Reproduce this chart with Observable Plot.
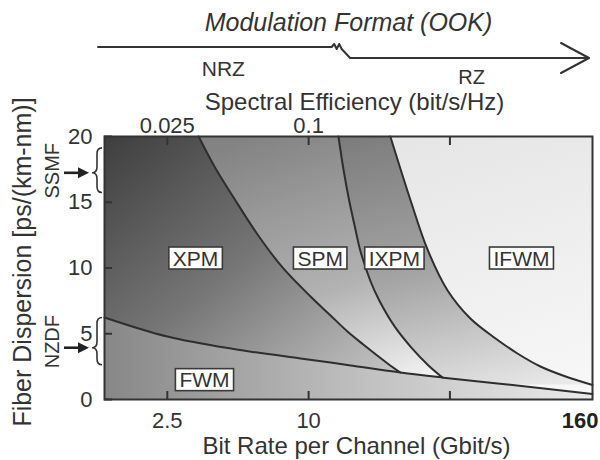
<!DOCTYPE html>
<html><head><meta charset="utf-8">
<script src="https://cdn.jsdelivr.net/npm/d3@7"></script>
<script src="https://cdn.jsdelivr.net/npm/@observablehq/plot@0.6"></script>
<style>body{margin:0;background:#fff}</style>
</head><body><div id="chart"></div>
<script>
// ---- axes ----
const bitRateDomain = [1.35, 162];
const dispersionDomain = [0, 20];
const bitRateTicks = [2.5, 10, 40];
const bitRateEdgeLabel = 160;
const spectralEffTicks = [0.025, 0.1, 0.4];
const dispersionTicks = [0, 5, 10, 15, 20];

// ---- texts ----
const headerTitle = "Modulation Format (OOK)";
const topTitle = "Spectral Efficiency (bit/s/Hz)";
const bottomTitle = "Bit Rate per Channel (Gbit/s)";
const leftTitle = "Fiber Dispersion [ps/(km-nm)]";

// ---- modulation formats (bit-rate spans) ----
const modNames = ["NRZ", "RZ"];
const modStart = [1.35, 15.1];
const modEnd = [12.6, 162];

// ---- boundary curves [bit rate (Gbit/s), dispersion] ----
const fwmBound = [[1.35,6.24],[2.5,4.79],[4.79,3.84],[9.23,3.12],[12.4,2.81],[15.1,2.59],[24.6,2.05],[37.2,1.67],[63.8,1.22],[162,0.42]];
const xpmSpmBound = [[3.4,20],[3.97,17.72],[4.79,15.36],[6.06,12.55],[7.74,10.04],[10.19,7.83],[12.4,6.39],[14.64,5.17],[17.1,4.18],[21.7,2.74],[24.6,2.05]];
const spmIxpmBound = [[13.4,20],[14.08,17.49],[14.8,15.36],[15.8,13.0],[16.6,11.33],[18.3,9.05],[20.0,7.53],[23.4,5.48],[27.4,3.95],[32.4,2.59],[37.2,1.67]];
const ixpmIfwmBound = [[22.3,20],[27.2,15.13],[32.1,11.41],[39.1,8.29],[48.9,6.16],[62.6,4.64],[77.6,3.5],[97.2,2.51],[128,1.67],[162,1.1]];

// ---- region labels ----
const regionNames = ["XPM", "SPM", "IXPM", "IFWM", "FWM"];
const regionBitRate = [3.3, 11.2, 23.2, 80.7, 3.6];
const regionDispersion = [10.7, 10.7, 10.7, 10.7, 1.45];

// ---- fibre types ----
const fiberNames = ["SSMF", "NZDF"];
const fiberLow = [15.7, 2.6];
const fiberHigh = [19.1, 6.2];
const fiberTypical = [17.2, 3.9];

const NS = "http://www.w3.org/2000/svg";
const el = (tag, attrs = {}) => { const e = document.createElementNS(NS, tag); for (const k in attrs) e.setAttribute(k, attrs[k]); return e; };

function defsMark() {
  const defs = el("defs");
  const grads = [
    ["g-ifwm", [0.45, 0, 1, 1], [[0, "#e4e4e4"], [1, "#f8f8f8"]]],
    ["g-ixpm", [0.5, 0, 1, 1], [[0, "#7c7c7c"], [0.5, "#a4a4a4"], [1, "#ededed"]]],
    ["g-spm", [0.45, 0, 0.95, 1], [[0, "#838383"], [0.6, "#b2b2b2"], [1, "#f2f2f2"]]],
    ["g-xpm", [0, 0, 1, 1], [[0, "#3e3e3e"], [0.5, "#767676"], [1, "#c6c6c6"]]],
    ["g-fwm", [0, 0, 1, 0], [[0, "#878787"], [0.5, "#bdbdbd"], [1, "#ebebeb"]]]
  ];
  for (const [id, [x1, y1, x2, y2], stops] of grads) {
    const g = el("linearGradient", {id, x1, y1, x2, y2});
    for (const [o, c] of stops) g.append(el("stop", {offset: o, "stop-color": c}));
    defs.append(g);
  }
  return defs;
}

function headerMark(index, scales) {
  const g = el("g", {fill: "none", stroke: "#333", "stroke-width": 2, "stroke-linejoin": "round", "stroke-linecap": "round"});
  const xs = scales.x;
  const x0 = xs(bitRateDomain[0]) - 6, xa = xs(modEnd[0]), xb = xs(modStart[1]), x1 = xs(bitRateDomain[1]) - 3;
  const yN = 47, yR = 58;
  g.append(el("path", {d: `M${x0},${yN}H${xa}l2.5,-3l2.5,5l2.5,-5l2.5,5L${xb},${yR}H${x1}`}));
  g.append(el("path", {d: `M${x1 - 28},${yR - 15}L${x1},${yR}L${x1 - 28},${yR + 15}`}));
  return g;
}

function fiberMark(index, scales, values, dim) {
  const g = el("g");
  fiberNames.forEach((name, i) => {
    const y1 = scales.y(fiberHigh[i]), y2 = scales.y(fiberLow[i]), ym = scales.y(fiberTypical[i]);
    const xr = dim.marginLeft - 2, w = 10, xl = xr - w, xm = xr - w / 2, r = 6;
    g.append(el("path", {fill: "none", stroke: "#333", "stroke-width": 1.6,
      d: `M${xr},${y1}Q${xm},${y1} ${xm},${y1 + r}L${xm},${ym - r}Q${xm},${ym} ${xl},${ym}Q${xm},${ym} ${xm},${ym + r}L${xm},${y2 - r}Q${xm},${y2} ${xr},${y2}`}));
    const ax = xl - 3;
    g.append(el("path", {fill: "none", stroke: "#222", "stroke-width": 2.6, d: `M${ax - 25},${ym}H${ax - 8}`}));
    g.append(el("path", {fill: "#222", d: `M${ax},${ym}L${ax - 11},${ym - 5.5}L${ax - 11},${ym + 5.5}Z`}));
  });
  return g;
}

const curveOpts = {curve: "catmull-rom", stroke: "#2e2e2e", strokeWidth: 2};
const px = d => d[0], py = d => d[1];
const tick = {tickSize: -8, strokeWidth: 2, stroke: "#333", label: null, fontSize: 22};

const svg = Plot.plot({
  width: 600, height: 460,
  marginLeft: 104, marginRight: 8, marginTop: 136, marginBottom: 61,
  style: {fontFamily: "'Liberation Sans', Arial, sans-serif", fontSize: "22px", color: "#333", background: "#fff", overflow: "visible"},
  x: {type: "log", domain: bitRateDomain},
  y: {domain: dispersionDomain},
  marks: [
    defsMark,
    Plot.frame({fill: "url(#g-ifwm)"}),
    Plot.areaX(ixpmIfwmBound, {y: py, x1: bitRateDomain[0], x2: px, curve: "catmull-rom", fill: "url(#g-ixpm)"}),
    Plot.areaX(spmIxpmBound, {y: py, x1: bitRateDomain[0], x2: px, curve: "catmull-rom", fill: "url(#g-spm)"}),
    Plot.areaX(xpmSpmBound, {y: py, x1: bitRateDomain[0], x2: px, curve: "catmull-rom", fill: "url(#g-xpm)"}),
    Plot.areaY(fwmBound, {x: px, y1: 0, y2: py, curve: "catmull-rom", fill: "url(#g-fwm)"}),
    Plot.line(ixpmIfwmBound, {x: px, y: py, ...curveOpts}),
    Plot.line(spmIxpmBound, {x: px, y: py, ...curveOpts}),
    Plot.line(xpmSpmBound, {x: px, y: py, ...curveOpts}),
    Plot.line(fwmBound, {x: px, y: py, ...curveOpts}),
    Plot.frame({stroke: "#333", strokeWidth: 2}),
    Plot.axisX(bitRateTicks, {anchor: "bottom", tickPadding: 21, ...tick, tickFormat: d => String(d)}),
    Plot.axisX(bitRateTicks, {anchor: "top", tickPadding: 12, ...tick, tickFormat: d => String(spectralEffTicks[bitRateTicks.indexOf(d)])}),
    Plot.axisY(dispersionTicks, {anchor: "left", tickPadding: 20, ...tick, tickFormat: d => String(d)}),
    Plot.text([bitRateEdgeLabel], {x: d => d, frameAnchor: "bottom", lineAnchor: "top", dy: 13, dx: -11, fontWeight: "bold", fontSize: 22, fill: "#222", text: d => String(d)}),
    Plot.text([bottomTitle], {frameAnchor: "bottom", dy: 37, dx: 8, fontSize: 24, lineAnchor: "top"}),
    Plot.text([topTitle], {frameAnchor: "top", lineAnchor: "middle", dy: -34, dx: 6, fontSize: 24}),
    Plot.text([leftTitle], {frameAnchor: "left", rotate: -90, textAnchor: "middle", dx: -82, dy: -6, fontSize: 25}),
    Plot.text([headerTitle], {frameAnchor: "top", lineAnchor: "middle", dy: -114, fontSize: 25, fontStyle: "italic"}),
    headerMark,
    Plot.text(modNames, {filter: (d, i) => i === 0, x: (d, i) => Math.sqrt(modStart[0] * modEnd[0]), frameAnchor: "top", lineAnchor: "middle", dy: -67, dx: 5, fontSize: 21}),
    Plot.text(modNames, {filter: (d, i) => i === 1, x: (d, i) => Math.sqrt(modStart[1] * modEnd[1]), frameAnchor: "top", lineAnchor: "middle", dy: -59, fontSize: 20}),
    fiberMark,
    Plot.text(fiberNames, {y: (d, i) => (fiberLow[i] + fiberHigh[i]) / 2, frameAnchor: "left", textAnchor: "middle", dx: -52, rotate: -90, fontSize: 20}),
    Plot.text(regionNames, {x: (d, i) => regionBitRate[i], y: (d, i) => regionDispersion[i], fontSize: 21, fill: "#333"})
  ]
});
document.getElementById("chart").append(svg);

// white boxes with a dark border behind the region labels
svg.querySelectorAll("text").forEach(t => {
  if (!regionNames.includes(t.textContent)) return;
  const b = t.getBBox();
  const r = el("rect", {x: b.x - 4, y: b.y + 0.5, width: b.width + 8, height: b.height - 1, fill: "#fff", stroke: "#3a3a3a", "stroke-width": 1.6});
  const tr = t.getAttribute("transform");
  if (tr) r.setAttribute("transform", tr);
  t.parentNode.insertBefore(r, t);
});
</script>
</body></html>
